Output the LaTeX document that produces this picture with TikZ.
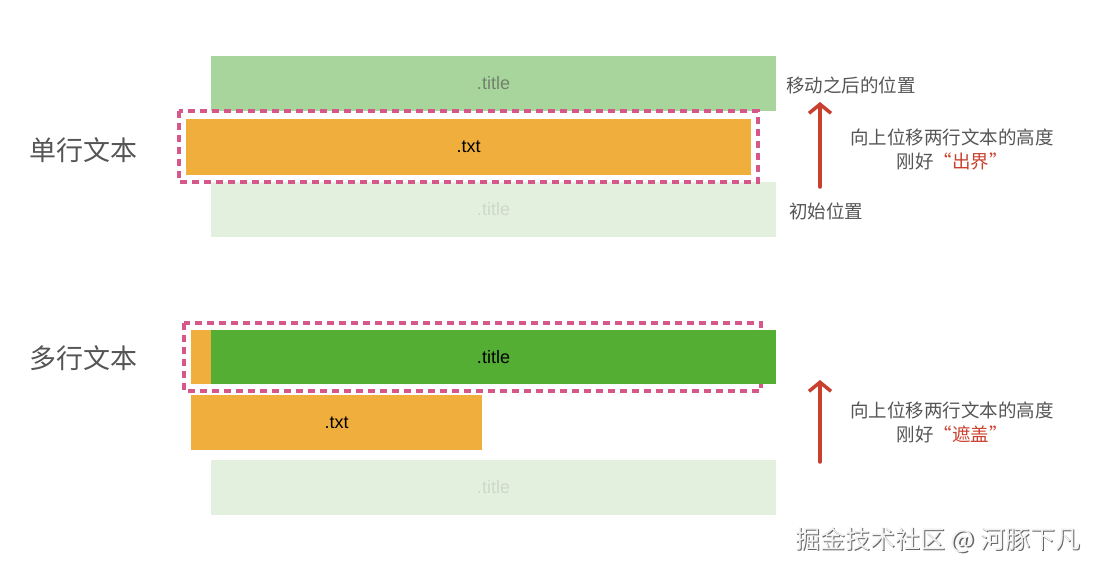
\documentclass[tikz,border=0pt]{standalone}
\usepackage{fontspec}
\setmainfont{Liberation Sans}
\newfontfamily\cjk{Noto Sans CJK SC}
\usetikzlibrary{arrows.meta}
\definecolor{ltgreen}{HTML}{A8D59B}
\definecolor{palegreen}{HTML}{E2F0DD}
\definecolor{dkgreen}{HTML}{54AE34}
\definecolor{orng}{HTML}{F0AE3C}
\definecolor{pinkd}{HTML}{D6588A}
\definecolor{redar}{HTML}{C9412E}
\definecolor{labelgray}{HTML}{555555}
\definecolor{titlegray}{HTML}{72826E}
\definecolor{fainttext}{HTML}{CDD8CA}
\tikzset{
  bar/.style={inner sep=0pt, outer sep=0pt, anchor=north west, font=\fontsize{18}{21}\selectfont},
  dashbox/.style={draw=pinkd, line width=3.2pt, dash pattern=on 7pt off 5pt, fill=white},
  biglabel/.style={text=labelgray, font=\cjk\fontsize{27}{30}\selectfont},
  note/.style={text=labelgray, font=\cjk\fontsize{18.5}{24}\selectfont, inner sep=0pt},
  uparrow/.style={draw=redar, line width=3.5pt, line cap=round, -{Straight Barb[length=9pt,width=22pt,line width=3.5pt]}},
  wmtext/.style={font=\cjk\fontsize{25}{28}\selectfont, anchor=west, inner sep=0pt},
}
\begin{document}
\begin{tikzpicture}[x=1pt,y=-1pt]
\useasboundingbox (0,0) rectangle (1098,571);
% ---------- single line ----------
\node[bar, fill=ltgreen, text=titlegray, minimum width=565pt, minimum height=55pt] (t1) at (211,56) {.title};
\node[bar, fill=palegreen, text=fainttext, minimum width=565pt, minimum height=55pt] (t1i) at (211,182) {.title};
\draw[dashbox] (179,111) rectangle (758,182);
\node[bar, fill=orng, text=black, minimum width=565pt, minimum height=56pt] (x1) at (186,119) {.txt};
\node[biglabel] (l1) at (83,150) {单行文本};
\node[note, anchor=west] (after) at (786,85) {移动之后的位置};
\node[note, anchor=west] (init) at (789,211) {初始位置};
\coordinate (a1s) at (820,187);
\coordinate (a1e) at (820,102);
\draw[uparrow] (a1s) -- (a1e);
\node[note, align=center] (n1) at (952,149) {向上位移两行文本的高度\\刚好{\color{redar}“出界”}};
% ---------- multi line ----------
\draw[dashbox] (184,323) rectangle (761,391);
\node[bar, fill=orng, minimum width=21pt, minimum height=54pt] (x2a) at (191,330) {};
\node[bar, fill=dkgreen, text=black, minimum width=565pt, minimum height=54pt] (t2) at (211,330) {.title};
\node[bar, fill=orng, text=black, minimum width=291pt, minimum height=55pt] (x2) at (191,395) {.txt};
\node[bar, fill=palegreen, text=fainttext, minimum width=565pt, minimum height=55pt] (t2i) at (211,460) {.title};
\node[biglabel] (l2) at (83,358) {多行文本};
\coordinate (a2s) at (820,462);
\coordinate (a2e) at (820,380);
\draw[uparrow] (a2s) -- (a2e);
\node[note, align=center] (n2) at (952,422) {向上位移两行文本的高度\\刚好{\color{redar}“遮盖”}};
% ---------- watermark ----------
\node[wmtext, text=black!60] (wms) at (796.3,541.3) {掘金技术社区 @ 河豚下凡};
\node[wmtext, text=white!95!black] (wm) at (795,540) {掘金技术社区 @ 河豚下凡};
\end{tikzpicture}
\end{document}
